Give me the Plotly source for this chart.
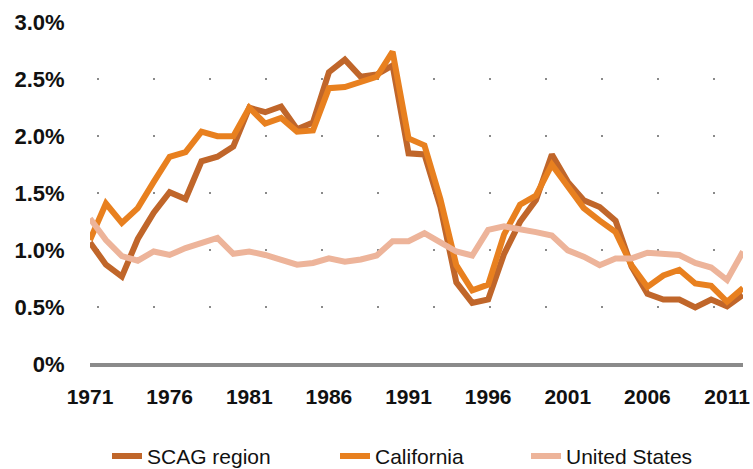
import plotly.graph_objects as go

years = list(range(1971, 2013))

scag = [1.07, 0.875, 0.77, 1.10, 1.33, 1.51, 1.45, 1.78, 1.82, 1.91,
        2.25, 2.21, 2.26, 2.06, 2.12, 2.56, 2.67, 2.52, 2.54, 2.62,
        1.85, 1.84, 1.38, 0.72, 0.54, 0.57, 0.97, 1.25, 1.44, 1.84,
        1.60, 1.44, 1.38, 1.26, 0.86, 0.62, 0.57, 0.57, 0.50, 0.57,
        0.51, 0.61]

california = [1.09, 1.41, 1.24, 1.37, 1.60, 1.82, 1.86, 2.04, 2.00, 2.00,
              2.25, 2.11, 2.16, 2.04, 2.05, 2.42, 2.43, 2.47, 2.52, 2.74,
              1.98, 1.92, 1.45, 0.87, 0.65, 0.70, 1.14, 1.40, 1.48, 1.75,
              1.56, 1.37, 1.26, 1.16, 0.87, 0.68, 0.78, 0.83, 0.71, 0.69,
              0.55, 0.67]

united_states = [1.28, 1.09, 0.95, 0.91, 0.99, 0.96, 1.02, 1.07, 1.11, 0.97,
                 0.99, 0.96, 0.92, 0.875, 0.89, 0.93, 0.90, 0.92, 0.955, 1.08,
                 1.08, 1.15, 1.07, 0.99, 0.955, 1.18, 1.21, 1.19, 1.16, 1.13,
                 1.00, 0.945, 0.87, 0.93, 0.93, 0.98, 0.97, 0.96, 0.89, 0.85,
                 0.74, 0.99]

series_names = ["SCAG region", "California", "United States"]
x_tick_vals = [1971, 1976, 1981, 1986, 1991, 1996, 2001, 2006, 2011]
y_tick_vals = [0, 0.5, 1.0, 1.5, 2.0, 2.5, 3.0]
y_tick_text = ["0%", "0.5%", "1.0%", "1.5%", "2.0%", "2.5%", "3.0%"]

colors = ["#C0662A", "#E8801F", "#EDB49A"]
legend_ids = ["legend", "legend2", "legend3"]

fig = go.Figure()
for name, vals, col, lg in zip(series_names, [scag, california, united_states], colors, legend_ids):
    fig.add_trace(go.Scatter(
        x=years, y=vals, name=name, mode="lines",
        line=dict(color=col, width=6),
        legend=lg,
    ))

x_tick_font = dict(family="Liberation Sans, Arial, sans-serif", size=21, color="#111111", weight="bold")
y_tick_font = dict(family="Liberation Sans, Arial, sans-serif", size=22, color="#111111", weight="bold")
leg_font = dict(family="Liberation Sans, Arial, sans-serif", size=21, color="#111111")

W, H = 753, 469
ml, mr, mt = 90, 10, 22
plot_w = W - ml - mr
y_lo, y_hi = -0.03, 3.0
px_per = (365 - 22) / 3.0
plot_h = (y_hi - y_lo) * px_per
mb = H - mt - plot_h

def lx(px):
    return (px - ml) / plot_w

leg_y = -(450 - 365 + 3.4) / plot_h

legend_common = dict(orientation="h", yanchor="middle", xanchor="left",
                     font=leg_font, bgcolor="rgba(0,0,0,0)", borderwidth=0)

fig.update_layout(
    width=W, height=H,
    margin=dict(l=ml, r=mr, t=mt, b=mb, autoexpand=False),
    paper_bgcolor="white", plot_bgcolor="white",
    showlegend=True,
    legend=dict(x=lx(107), y=leg_y, **legend_common),
    legend2=dict(x=lx(335), y=leg_y, **legend_common),
    legend3=dict(x=lx(526), y=leg_y, **legend_common),
    xaxis=dict(
        range=[1971, 2012], tickvals=x_tick_vals,
        showgrid=False, zeroline=False, showline=False,
        ticks="outside", ticklen=10, tickcolor="rgba(0,0,0,0)",
        tickfont=x_tick_font, automargin=False,
    ),
    yaxis=dict(
        range=[y_lo, y_hi], tickvals=y_tick_vals, ticktext=y_tick_text,
        showgrid=True, gridcolor="#8a8a8a", gridwidth=2,
        griddash="0px,7px,2px,47px",
        zeroline=True, zerolinecolor="#8a8a8a", zerolinewidth=4,
        showline=False,
        ticks="outside", ticklen=20, tickcolor="rgba(0,0,0,0)",
        tickfont=y_tick_font, automargin=False,
    ),
)

fig.write_html("out.html", config={"displayModeBar": False},
               post_script="document.body.style.margin='0px';document.body.style.overflow='hidden';")
